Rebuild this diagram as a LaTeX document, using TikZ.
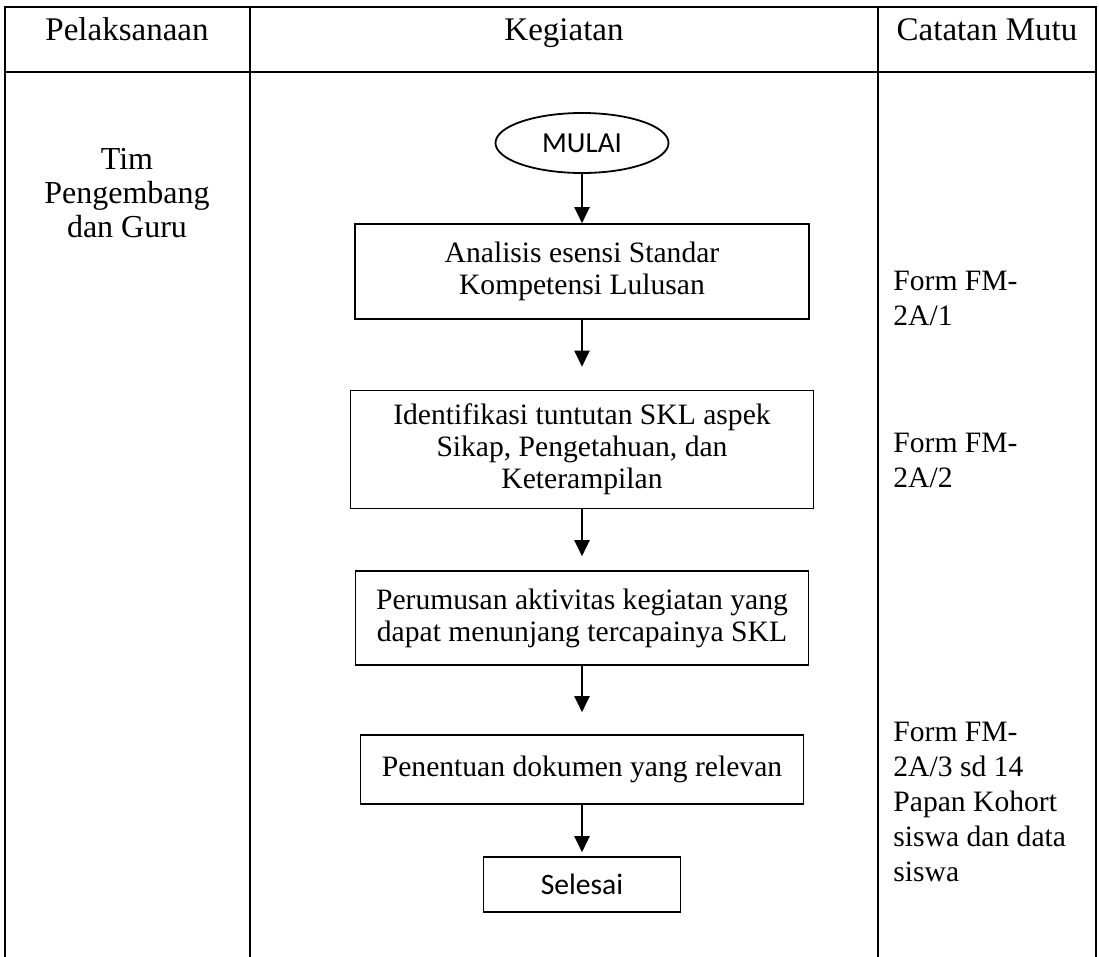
\documentclass[tikz,border=0pt]{standalone}
\usepackage{fontspec}
\setmainfont{Liberation Serif}
\newfontfamily\calibri{Carlito}
\usetikzlibrary{positioning, shapes.geometric, arrows.meta, calc}

\begin{document}
\begin{tikzpicture}[x=0.5pt, y=-0.5pt,
    garis/.style={line width=1.1pt},
    kepala/.style={anchor=base, font=\fontsize{16.5}{18}\selectfont, inner sep=0pt},
    proses/.style={draw, line width=0.8pt, align=center, inner sep=0pt,
                   font=\fontsize{14.8}{16}\selectfont},
    catatan/.style={anchor=north west, align=left, inner sep=0pt,
                    font=\fontsize{14.8}{17.5}\selectfont},
    alur/.style={-{Triangle[length=8pt,width=7.5pt]}, line width=1pt}]
  \useasboundingbox (0,0) rectangle (1099,957);
  % tabel
  \draw[garis] (5,957) -- (5,7) -- (1096,7) -- (1096,957);
  \draw[garis] (5,72) -- (1096,72);
  \draw[garis] (250,7) -- (250,957);
  \draw[garis] (878,7) -- (878,957);
  \node[kepala] (hpel) at (127,41) {Pelaksanaan};
  \node[kepala] (hkeg) at (564,41) {Kegiatan};
  \node[kepala] (hcat) at (987,41) {Catatan Mutu};
  \node[align=center, inner sep=0pt, font=\fontsize{16}{17}\selectfont]
       (pelaksana) at (127,193) {Tim\\Pengembang\\dan Guru};
  % alur kegiatan
  \node[ellipse, draw, line width=0.9pt, minimum width=86.5pt,
        minimum height=30pt, inner sep=0pt,
        font=\calibri\fontsize{14.5}{16}\selectfont] (mulai) at (582,143) {MULAI};
  \node[proses, minimum width=227pt, minimum height=47.5pt]
       (analisis) at (582,271.5) {Analisis esensi Standar\\Kompetensi Lulusan};
  \node[proses, minimum width=231.5pt, minimum height=59pt]
       (identifikasi) at (582,449.5)
       {Identifikasi tuntutan SKL aspek\\Sikap, Pengetahuan, dan\\Keterampilan};
  \node[proses, minimum width=226.5pt, minimum height=47pt]
       (perumusan) at (582,618)
       {Perumusan aktivitas kegiatan yang\\dapat menunjang tercapainya SKL};
  \node[proses, minimum width=221.5pt, minimum height=34.5pt]
       (penentuan) at (582,769.5) {Penentuan dokumen yang relevan};
  \node[proses, minimum width=98.5pt, minimum height=27.5pt,
        font=\calibri\fontsize{14.8}{16}\selectfont]
       (selesai) at (582,884.5) {Selesai};
  \draw[alur] (mulai) -- (analisis);
  \draw[alur, shorten >=11.5pt] (analisis) -- (identifikasi);
  \draw[alur, shorten >=7pt] (identifikasi) -- (perumusan);
  \draw[alur, shorten >=11pt] (perumusan) -- (penentuan);
  \draw[alur, shorten >=2pt] (penentuan) -- (selesai);
  % catatan mutu
  \node[catatan] (form1) at (893,271) {Form FM-\\2A/1};
  \node[catatan] (form2) at (893,433) {Form FM-\\2A/2};
  \node[catatan] (form3) at (893,722)
       {Form FM-\\2A/3 sd 14\\Papan Kohort\\siswa dan data\\siswa};
\end{tikzpicture}
\end{document}
